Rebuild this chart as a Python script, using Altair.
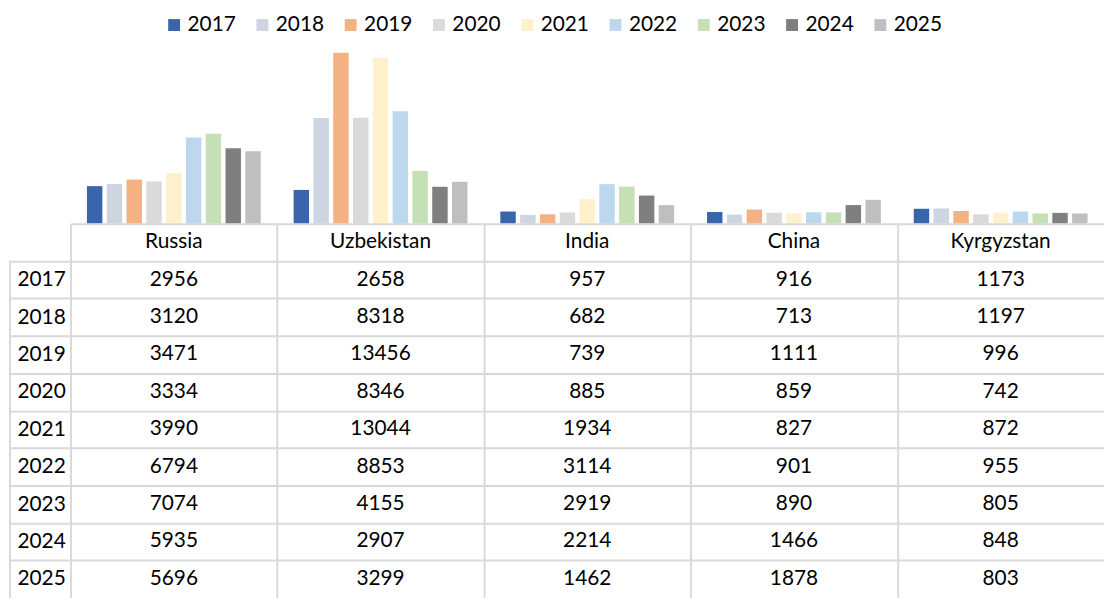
import altair as alt
import pandas as pd

countries = ["Russia", "Uzbekistan", "India", "China", "Kyrgyzstan"]
years = ["2017", "2018", "2019", "2020", "2021", "2022", "2023", "2024", "2025"]
russia = [2956, 3120, 3471, 3334, 3990, 6794, 7074, 5935, 5696]
uzbekistan = [2658, 8318, 13456, 8346, 13044, 8853, 4155, 2907, 3299]
india = [957, 682, 739, 885, 1934, 3114, 2919, 2214, 1462]
china = [916, 713, 1111, 859, 827, 901, 890, 1466, 1878]
kyrgyzstan = [1173, 1197, 996, 742, 872, 955, 805, 848, 803]
year_colors = ["#3A64AC", "#CDD5E0", "#F4B183", "#DADADA", "#FFF1CC",
               "#BDD7EE", "#C5E0B4", "#7F7F7F", "#BFBFBF"]

series = [russia, uzbekistan, india, china, kyrgyzstan]

rows = []
for c, vals in zip(countries, series):
    for y, v in zip(years, vals):
        rows.append({"country": c, "year": y, "value": v})
df = pd.DataFrame(rows)

header_key = "header"
table_rows = []
for c, vals in zip(countries, series):
    table_rows.append({"country": c, "row": header_key, "label": c})
    for y, v in zip(years, vals):
        table_rows.append({"country": c, "row": y, "label": str(v)})
tdf = pd.DataFrame(table_rows)

FONT = "Lato"
FS = 21
GRID = "#D9D9D9"
PLOT_W = 1042
BAR_H = 215
TABLE_H = 377
LABEL_COL = 62
row_domain = [header_key] + years
row_h = TABLE_H / len(row_domain)

bars = alt.Chart(df).mark_bar().encode(
    x=alt.X("country:N", sort=countries, axis=None,
            scale=alt.Scale(domain=countries, paddingInner=0, paddingOuter=0)),
    xOffset=alt.XOffset("year:N", sort=years,
                        scale=alt.Scale(domain=years, paddingInner=0.22, paddingOuter=0.83)),
    y=alt.Y("value:Q", axis=None, scale=alt.Scale(domain=[0, 16800], nice=False)),
    color=alt.Color("year:N", sort=years,
                    scale=alt.Scale(domain=years, range=year_colors),
                    legend=alt.Legend(orient="none", legendX=94, legendY=4,
                                      direction="horizontal", columns=9, title=None,
                                      symbolType="square", symbolSize=144,
                                      symbolStrokeWidth=0, labelFontSize=FS,
                                      labelFont=FONT, labelColor="black",
                                      labelOffset=3, columnPadding=16, padding=0)),
).properties(width=PLOT_W, height=BAR_H)

xscale = alt.Scale(domain=countries, paddingInner=0, paddingOuter=0)
yscale = alt.Scale(domain=row_domain, paddingInner=0, paddingOuter=0)

# column borders: start of the first column plus the ends of all but the last
xt = alt.X("country:N", sort=countries, scale=xscale,
           axis=alt.Axis(orient="top", values=countries[:-1], labels=False, ticks=False,
                         domain=True, domainColor=GRID, domainWidth=2, grid=True,
                         gridColor=GRID, gridWidth=2, tickBand="extent", title=None))

# row labels (no visible ticks)
y_labels = alt.Y("row:N", sort=row_domain, scale=yscale,
                 axis=alt.Axis(orient="left", values=years, title=None,
                               labelAlign="left", labelPadding=-8,
                               labelBaseline="middle", tickBand="extent",
                               tickSize=LABEL_COL, tickOpacity=0, domain=False,
                               grid=False, labelFont=FONT, labelFontSize=FS,
                               labelColor="black"))

# row borders: top of the first data row plus the ends of all but the last
y_lines = alt.Y("row:N", sort=row_domain, scale=yscale,
                axis=alt.Axis(orient="left", values=years[:-1], title=None,
                              labels=False, tickBand="extent", tickSize=LABEL_COL,
                              tickColor=GRID, tickWidth=2, domain=False, grid=True,
                              gridColor=GRID, gridWidth=2))

line_carrier = alt.Chart(tdf).mark_text(font=FONT, fontSize=FS, opacity=0,
                                        align="center", baseline="middle").encode(
    x=xt, y=y_lines, text="label:N")

cells = alt.Chart(tdf).mark_text(font=FONT, fontSize=FS, color="black",
                                 align="center", baseline="middle").encode(
    x=xt, y=y_labels, text="label:N")

left_border = alt.Chart(tdf).mark_rule(color=GRID, strokeWidth=2).encode(
    x=alt.value(-LABEL_COL + 1), y=alt.value(row_h), y2=alt.value(TABLE_H))

table = alt.layer(line_carrier, left_border, cells).resolve_axis(
    y="independent"
).properties(width=PLOT_W, height=TABLE_H)

chart = alt.vconcat(bars, table, spacing=0, bounds="flush").properties(
    padding=0
).configure(font=FONT).configure_view(strokeWidth=0)

chart.save("out.html", embed_options={"renderer": "svg", "actions": False})
